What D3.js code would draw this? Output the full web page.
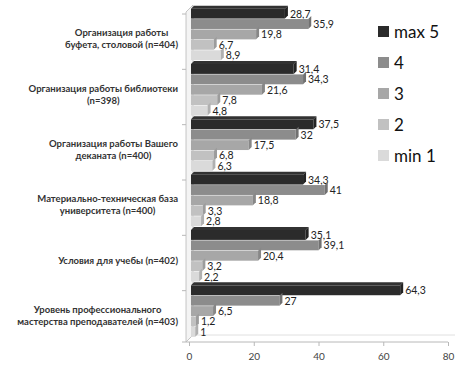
<!DOCTYPE html>
<html>
<head>
<meta charset="utf-8">
<script src="https://d3js.org/d3.v7.min.js"></script>
<style>
  body { margin: 0; background: #fff; }
  svg { display: block; font-family: Lato, "Open Sans", sans-serif; }
</style>
</head>
<body>
<div id="chart"></div>
<script>
// categories (top to bottom), each label split into lines
const categories = [
    ["Организация работы", "буфета, столовой (n=404)"],
    ["Организация работы библиотеки", "(n=398)"],
    ["Организация работы Вашего", "деканата (n=400)"],
    ["Материально-техническая база", "университета (n=400)"],
    ["Условия для учебы (n=402)"],
    ["Уровень профессионального", "мастерства преподавателей (n=403)"]
];

// series, in legend order
const seriesNames = ["max 5", "4", "3", "2", "min 1"];
const max5 = [28.7, 31.4, 37.5, 34.3, 35.1, 64.3];
const score4 = [35.9, 34.3, 32, 41, 39.1, 27];
const score3 = [19.8, 21.6, 17.5, 18.8, 20.4, 6.5];
const score2 = [6.7, 7.8, 6.8, 3.3, 3.2, 1.2];
const min1 = [8.9, 4.8, 6.3, 2.8, 2.2, 1];
const seriesValues = [max5, score4, score3, score2, min1];

const xTicks = [0, 20, 40, 60, 80];
const colors = ["#2b2b2b", "#8c8c8c", "#a7a7a7", "#c1c1c1", "#dadada"];

const width = 473, height = 383;
const svg = d3.select("#chart").append("svg")
    .attr("width", width)
    .attr("height", height);

const x = d3.scaleLinear().domain([0, 80]).range([189, 448]);
const y0 = d3.scaleBand().domain(d3.range(categories.length)).range([7, 339])
    .paddingInner(0.06).paddingOuter(0.03);
const y1 = d3.scaleBand().domain(d3.range(seriesNames.length)).range([0, y0.bandwidth()]);

// left wall and floor (3d look)
svg.append("path")
    .attr("d", `M186,12 L193,5 L193,335 L186,342 Z`)
    .attr("fill", "#f4f4f4").attr("stroke", "#b8b8b8").attr("stroke-width", 0.8);
svg.append("line")
    .attr("x1", 186).attr("x2", x(80)).attr("y1", 342).attr("y2", 342)
    .attr("stroke", "#b8b8b8");
svg.append("line")
    .attr("x1", 193).attr("x2", x(80) + 7).attr("y1", 335).attr("y2", 335)
    .attr("stroke", "#e0e0e0");

// category separators on the wall
categories.forEach((c, i) => {
    const yy = y0(i) - y0.step() * 0.03 + 3;
    svg.append("line")
        .attr("x1", 182).attr("x2", 186).attr("y1", yy + 4).attr("y2", yy + 4)
        .attr("stroke", "#b8b8b8");
});
svg.append("line").attr("x1", 182).attr("x2", 186).attr("y1", 342).attr("y2", 342)
    .attr("stroke", "#b8b8b8");

// x axis
const xAxis = svg.append("g")
    .attr("transform", "translate(0,342)")
    .call(d3.axisBottom(x).tickValues(xTicks).tickSize(4).tickPadding(7));
xAxis.select(".domain").remove();
xAxis.selectAll(".tick line").attr("stroke", "#b8b8b8");
xAxis.selectAll(".tick text").attr("fill", "#444").style("font-size", "10px")
    .style("font-family", "Lato, sans-serif");

// bars (shifted a little to the right for the depth of the 3d plot)
const depth = 3, shift = 3;
seriesValues.forEach((vals, s) => {
    const base = d3.color(colors[s]);
    const g = svg.append("g");
    vals.forEach((v, i) => {
        const top = y0(i) + y1(s);
        const h = y1.bandwidth() - 0.5;
        const x0 = x(0) + 2, x1 = x(v) + shift;
        g.append("rect")
            .attr("x", x0).attr("y", top)
            .attr("width", x1 - x0).attr("height", h)
            .attr("fill", colors[s]);
        if (s === 0) {
            g.append("path")
                .attr("d", `M${x0},${top} L${x0 + depth},${top - depth} L${x1 + depth},${top - depth} L${x1},${top} Z`)
                .attr("fill", base.brighter(0.4));
        }
        g.append("path")
            .attr("d", `M${x1},${top} L${x1 + depth},${top - depth} L${x1 + depth},${top + h - depth} L${x1},${top + h} Z`)
            .attr("fill", base.darker(0.6));
        svg.append("text")
            .attr("x", x1 + depth + 2)
            .attr("y", top + h / 2 + 4)
            .attr("fill", "#222")
            .style("font-size", "10.5px")
            .text(String(v).replace(".", ","));
    });
});

// category labels, centred block, longest line ending at x=178
categories.forEach((lines, i) => {
    const g = svg.append("g");
    const lh = 12;
    const cy = y0(i) + y0.bandwidth() / 2 + 4;
    const texts = lines.map((line, k) => g.append("text")
        .attr("y", cy - (lines.length - 1) * lh / 2 + k * lh + 3.5)
        .attr("text-anchor", "middle")
        .attr("fill", "#333")
        .style("font-size", "9.5px")
        .style("font-weight", "bold")
        .text(line));
    const maxW = d3.max(texts, t => t.node().getComputedTextLength());
    texts.forEach(t => t.attr("x", 178 - maxW / 2));
});

// legend
const legend = svg.append("g");
seriesNames.forEach((name, s) => {
    const ly = 32 + s * 31;
    legend.append("rect")
        .attr("x", 378).attr("y", ly - 6).attr("width", 11).attr("height", 11)
        .attr("fill", colors[s]);
    legend.append("text")
        .attr("x", 394).attr("y", ly + 6)
        .attr("fill", "#111")
        .style("font-size", "17px")
        .text(name);
});
</script>
</body>
</html>
